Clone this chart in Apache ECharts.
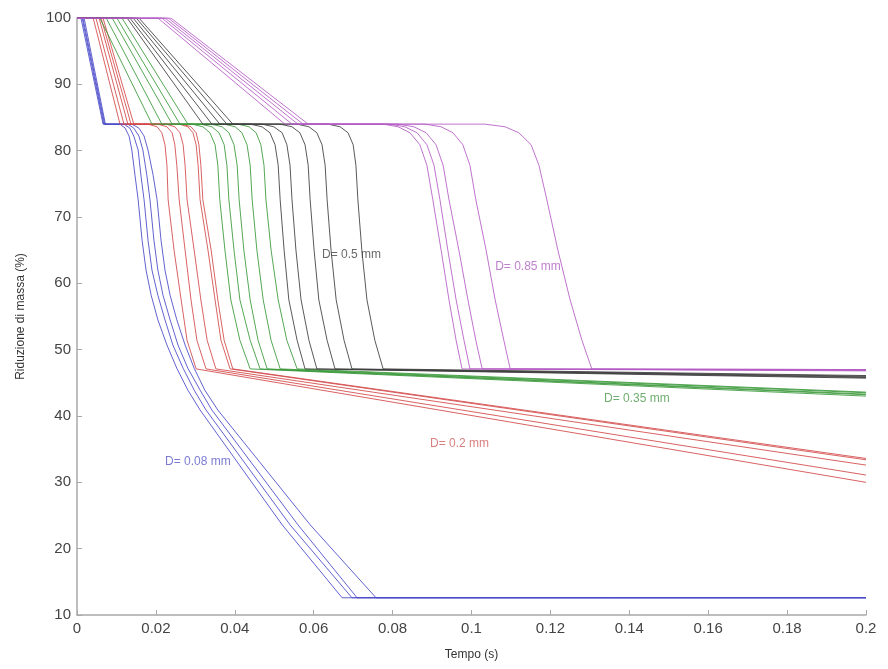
<!DOCTYPE html>
<html>
<head>
<meta charset="utf-8">
<script src="https://cdn.jsdelivr.net/npm/echarts@6/dist/echarts.min.js"></script>
<style>
html,body{margin:0;padding:0;background:#fff;}
#chart{width:888px;height:669px;}
</style>
</head>
<body>
<div id="chart"></div>
<script>
// Tick labels
var xTicks = [0, 0.02, 0.04, 0.06, 0.08, 0.1, 0.12, 0.14, 0.16, 0.18, 0.2];
var yTicks = [10, 20, 30, 40, 50, 60, 70, 80, 90, 100];

// D = 0.08 mm (blue)
var blueCurves = [
  [[0,100],[0.0010,100],[0.0066,84],[0.0109,84],[0.0122,83.4],[0.0132,82.2],[0.0139,80.1],[0.0147,76.3],[0.0155,72.6],[0.0165,66.5],[0.0175,62.0],[0.0188,58.2],[0.0205,54.5],[0.0228,50.7],[0.0253,47.2],[0.0281,43.9],[0.0312,40.9],[0.0520,23.6],[0.0672,12.6],[0.2,12.6]],
  [[0,100],[0.0013,100],[0.0068,84],[0.0119,84],[0.0134,83.4],[0.0144,82.2],[0.0155,80.1],[0.0162,76.3],[0.0170,72.6],[0.0180,66.5],[0.0190,62.0],[0.0205,58.2],[0.0223,54.5],[0.0243,50.7],[0.0269,47.2],[0.0297,43.9],[0.0327,40.9],[0.0540,23.6],[0.0697,12.6],[0.2,12.6]],
  [[0,100],[0.0015,100],[0.0070,84],[0.0129,84],[0.0144,83.4],[0.0157,82.2],[0.0167,80.1],[0.0177,76.3],[0.0185,72.6],[0.0195,66.5],[0.0205,62.0],[0.0218,58.2],[0.0236,54.5],[0.0256,50.7],[0.0281,47.2],[0.0312,43.9],[0.0342,40.9],[0.0560,23.6],[0.0710,12.6],[0.2,12.6]],
  [[0,100],[0.0018,100],[0.0072,84],[0.0139,84],[0.0157,83.4],[0.0170,82.2],[0.0180,80.1],[0.0193,76.3],[0.0203,72.6],[0.0213,66.5],[0.0223,62.0],[0.0236,58.2],[0.0253,54.5],[0.0274,50.7],[0.0297,47.2],[0.0324,43.9],[0.0357,40.9],[0.0591,23.6],[0.0758,12.6],[0.2,12.6]]
];

// D = 0.2 mm (red)
var redCurves = [
  [[0,100],[0.0041,100],[0.0109,84],[0.0180,84],[0.0203,83.6],[0.0215,82.7],[0.0223,80.9],[0.0228,77.8],[0.0231,72.6],[0.0246,65.0],[0.0264,57.5],[0.0279,51.4],[0.0302,47.1],[0.2,30.0]],
  [[0,100],[0.0048,100],[0.0119,84],[0.0205,84],[0.0228,83.6],[0.0241,82.7],[0.0248,80.9],[0.0253,77.8],[0.0259,72.6],[0.0274,65.0],[0.0289,57.5],[0.0304,51.4],[0.0327,47.1],[0.2,31.1]],
  [[0,100],[0.0056,100],[0.0129,84],[0.0226,84],[0.0248,83.6],[0.0261,82.7],[0.0269,80.9],[0.0274,77.8],[0.0279,72.6],[0.0297,65.0],[0.0314,57.5],[0.0330,51.4],[0.0352,47.1],[0.2,32.6]],
  [[0,100],[0.0061,100],[0.0137,84],[0.0259,84],[0.0281,83.6],[0.0294,82.7],[0.0302,80.9],[0.0307,77.8],[0.0312,72.6],[0.0332,65.0],[0.0350,57.5],[0.0365,51.4],[0.0388,47.1],[0.2,33.4]],
  [[0,100],[0.0066,100],[0.0144,84],[0.0266,84],[0.0289,83.6],[0.0302,82.7],[0.0309,80.9],[0.0314,77.8],[0.0319,72.6],[0.0340,65.0],[0.0357,57.5],[0.0373,51.4],[0.0395,47.1],[0.2,33.6]]
];

// D = 0.35 mm (green)
var greenCurves = [
  [[0,100],[0.0058,100],[0.0190,84],[0.0292,84],[0.0319,83.6],[0.0337,82.7],[0.0350,80.9],[0.0357,77.8],[0.0362,72.6],[0.0375,65.0],[0.0390,57.5],[0.0413,51.4],[0.0439,47.1],[0.2,43.0]],
  [[0,100],[0.0074,100],[0.0215,84],[0.0314,84],[0.0342,83.6],[0.0360,82.7],[0.0373,80.9],[0.0380,77.8],[0.0385,72.6],[0.0398,65.0],[0.0413,57.5],[0.0439,51.4],[0.0464,47.1],[0.2,43.2]],
  [[0,100],[0.0089,100],[0.0241,84],[0.0340,84],[0.0368,83.6],[0.0385,82.7],[0.0398,80.9],[0.0406,77.8],[0.0411,72.6],[0.0423,65.0],[0.0439,57.5],[0.0459,51.4],[0.0482,47.1],[0.2,43.3]],
  [[0,100],[0.0101,100],[0.0261,84],[0.0373,84],[0.0401,83.6],[0.0418,82.7],[0.0431,80.9],[0.0439,77.8],[0.0444,72.6],[0.0456,65.0],[0.0472,57.5],[0.0492,51.4],[0.0515,47.1],[0.2,43.5]],
  [[0,100],[0.0114,100],[0.0281,84],[0.0408,84],[0.0436,83.6],[0.0454,82.7],[0.0466,80.9],[0.0474,77.8],[0.0479,72.6],[0.0492,65.0],[0.0510,57.5],[0.0532,51.4],[0.0558,47.1],[0.2,43.6]]
];

// D = 0.5 mm (black)
var blackCurves = [
  [[0,100],[0.0127,100],[0.0319,84],[0.0439,84],[0.0469,83.6],[0.0489,82.7],[0.0502,80.9],[0.0510,77.8],[0.0515,72.6],[0.0525,65.0],[0.0537,57.5],[0.0558,51.4],[0.0578,47.1],[0.2,45.7]],
  [[0,100],[0.0134,100],[0.0342,84],[0.0469,84],[0.0499,83.6],[0.0520,82.7],[0.0532,80.9],[0.0540,77.8],[0.0545,72.6],[0.0555,65.0],[0.0568,57.5],[0.0588,51.4],[0.0608,47.1],[0.2,45.8]],
  [[0,100],[0.0142,100],[0.0362,84],[0.0515,84],[0.0545,83.6],[0.0565,82.7],[0.0578,80.9],[0.0586,77.8],[0.0591,72.6],[0.0601,65.0],[0.0613,57.5],[0.0634,51.4],[0.0654,47.1],[0.2,45.9]],
  [[0,100],[0.0150,100],[0.0380,84],[0.0558,84],[0.0588,83.6],[0.0608,82.7],[0.0621,80.9],[0.0629,77.8],[0.0634,72.6],[0.0644,65.0],[0.0657,57.5],[0.0677,51.4],[0.0697,47.1],[0.2,46.0]],
  [[0,100],[0.0157,100],[0.0395,84],[0.0636,84],[0.0667,83.6],[0.0687,82.7],[0.0700,80.9],[0.0707,77.8],[0.0712,72.6],[0.0722,65.0],[0.0735,57.5],[0.0755,51.4],[0.0776,47.1],[0.2,46.1]]
];

// D = 0.85 mm (purple)
var purpleCurves = [
  [[0,100],[0.0205,100],[0.0527,84],[0.0776,84],[0.0814,83.6],[0.0844,82.7],[0.0869,80.9],[0.0887,77.8],[0.0902,72.6],[0.0923,65.0],[0.0943,57.5],[0.0961,51.4],[0.0976,47.1],[0.2,46.8]],
  [[0,100],[0.0215,100],[0.0545,84],[0.0793,84],[0.0831,83.6],[0.0862,82.7],[0.0887,80.9],[0.0905,77.8],[0.0920,72.6],[0.0940,65.0],[0.0961,57.5],[0.0981,51.4],[0.0996,47.1],[0.2,46.9]],
  [[0,100],[0.0223,100],[0.0560,84],[0.0814,84],[0.0854,83.6],[0.0885,82.7],[0.0910,80.9],[0.0928,77.8],[0.0943,72.6],[0.0968,65.0],[0.0991,57.5],[0.1011,51.4],[0.1027,47.1],[0.2,46.9]],
  [[0,100],[0.0231,100],[0.0573,84],[0.0882,84],[0.0923,83.6],[0.0953,82.7],[0.0978,80.9],[0.0996,77.8],[0.1011,72.6],[0.1037,65.0],[0.1060,57.5],[0.1082,51.4],[0.1098,47.1],[0.2,47.0]],
  [[0,100],[0.0238,100],[0.0586,84],[0.1034,84],[0.1085,83.6],[0.1120,82.7],[0.1151,80.9],[0.1171,77.8],[0.1191,72.6],[0.1219,65.0],[0.1250,57.5],[0.1280,51.4],[0.1305,47.1],[0.2,47.0]]
];

// Curve annotations [t, y, text, colour]
var annotations = [
  [0.0223, 33.1, 'D= 0.08 mm', '#5a5ac8'],
  [0.0895, 35.9, 'D= 0.2 mm', '#d06060'],
  [0.1336, 42.6, 'D= 0.35 mm', '#4a9a4a'],
  [0.0621, 64.3, 'D= 0.5 mm', '#444444'],
  [0.1060, 62.5, 'D= 0.85 mm', '#b060c0']
];

var groups = [
  {curves: blueCurves, color: '#4646c8'},
  {curves: redCurves, color: '#d24646'},
  {curves: greenCurves, color: '#379637'},
  {curves: blackCurves, color: '#3c3c3c'},
  {curves: purpleCurves, color: '#b45ac4'}
];

var series = [];
groups.forEach(function (g) {
  g.curves.forEach(function (c) {
    series.push({
      type: 'line',
      data: c,
      showSymbol: false,
      smooth: false,
      lineStyle: {color: g.color, width: 1, opacity: 0.85},
      itemStyle: {color: g.color},
      silent: true,
      z: 2
    });
  });
});

annotations.forEach(function (a) {
  series.push({
    type: 'scatter',
    data: [[a[0], a[1]]],
    symbolSize: 0,
    silent: true,
    label: {
      show: true,
      position: 'right',
      distance: 0,
      formatter: a[2],
      color: a[3],
      fontSize: 12,
      fontFamily: 'Liberation Sans, Arial, sans-serif'
    },
    z: 5
  });
});

var chart = echarts.init(document.getElementById('chart'), null, {renderer: 'canvas'});
chart.setOption({
  animation: false,
  backgroundColor: '#ffffff',
  grid: {left: 77, right: 22, top: 18, bottom: 54, containLabel: false},
  xAxis: {
    type: 'value',
    min: 0, max: 0.2, interval: 0.02,
    name: 'Tempo (s)',
    nameLocation: 'middle',
    nameGap: 34,
    nameTextStyle: {fontSize: 12, color: '#333', fontFamily: 'Liberation Sans, Arial, sans-serif'},
    axisLine: {show: true, lineStyle: {color: '#a8a8a8', width: 1.5}},
    axisTick: {show: true, inside: true, length: 5, lineStyle: {color: '#a8a8a8'}},
    axisLabel: {
      fontSize: 15, color: '#444', margin: 6,
      fontFamily: 'Liberation Sans, Arial, sans-serif',
      formatter: function (v) {
        var s = +v.toFixed(2);
        return xTicks.indexOf(s) >= 0 ? String(s) : '';
      }
    },
    splitLine: {show: false}
  },
  yAxis: {
    type: 'value',
    min: 10, max: 100, interval: 10,
    name: 'Riduzione di massa (%)',
    nameLocation: 'middle',
    nameGap: 50,
    nameTextStyle: {fontSize: 12, color: '#333', fontFamily: 'Liberation Sans, Arial, sans-serif'},
    axisLine: {show: true, lineStyle: {color: '#a8a8a8', width: 1.5}},
    axisTick: {show: true, inside: true, length: 5, lineStyle: {color: '#a8a8a8'}},
    axisLabel: {
      fontSize: 15, color: '#444', margin: 6,
      fontFamily: 'Liberation Sans, Arial, sans-serif',
      formatter: function (v) {
        return yTicks.indexOf(Math.round(v)) >= 0 ? String(Math.round(v)) : '';
      }
    },
    splitLine: {show: false}
  },
  series: series
});
</script>
</body>
</html>
